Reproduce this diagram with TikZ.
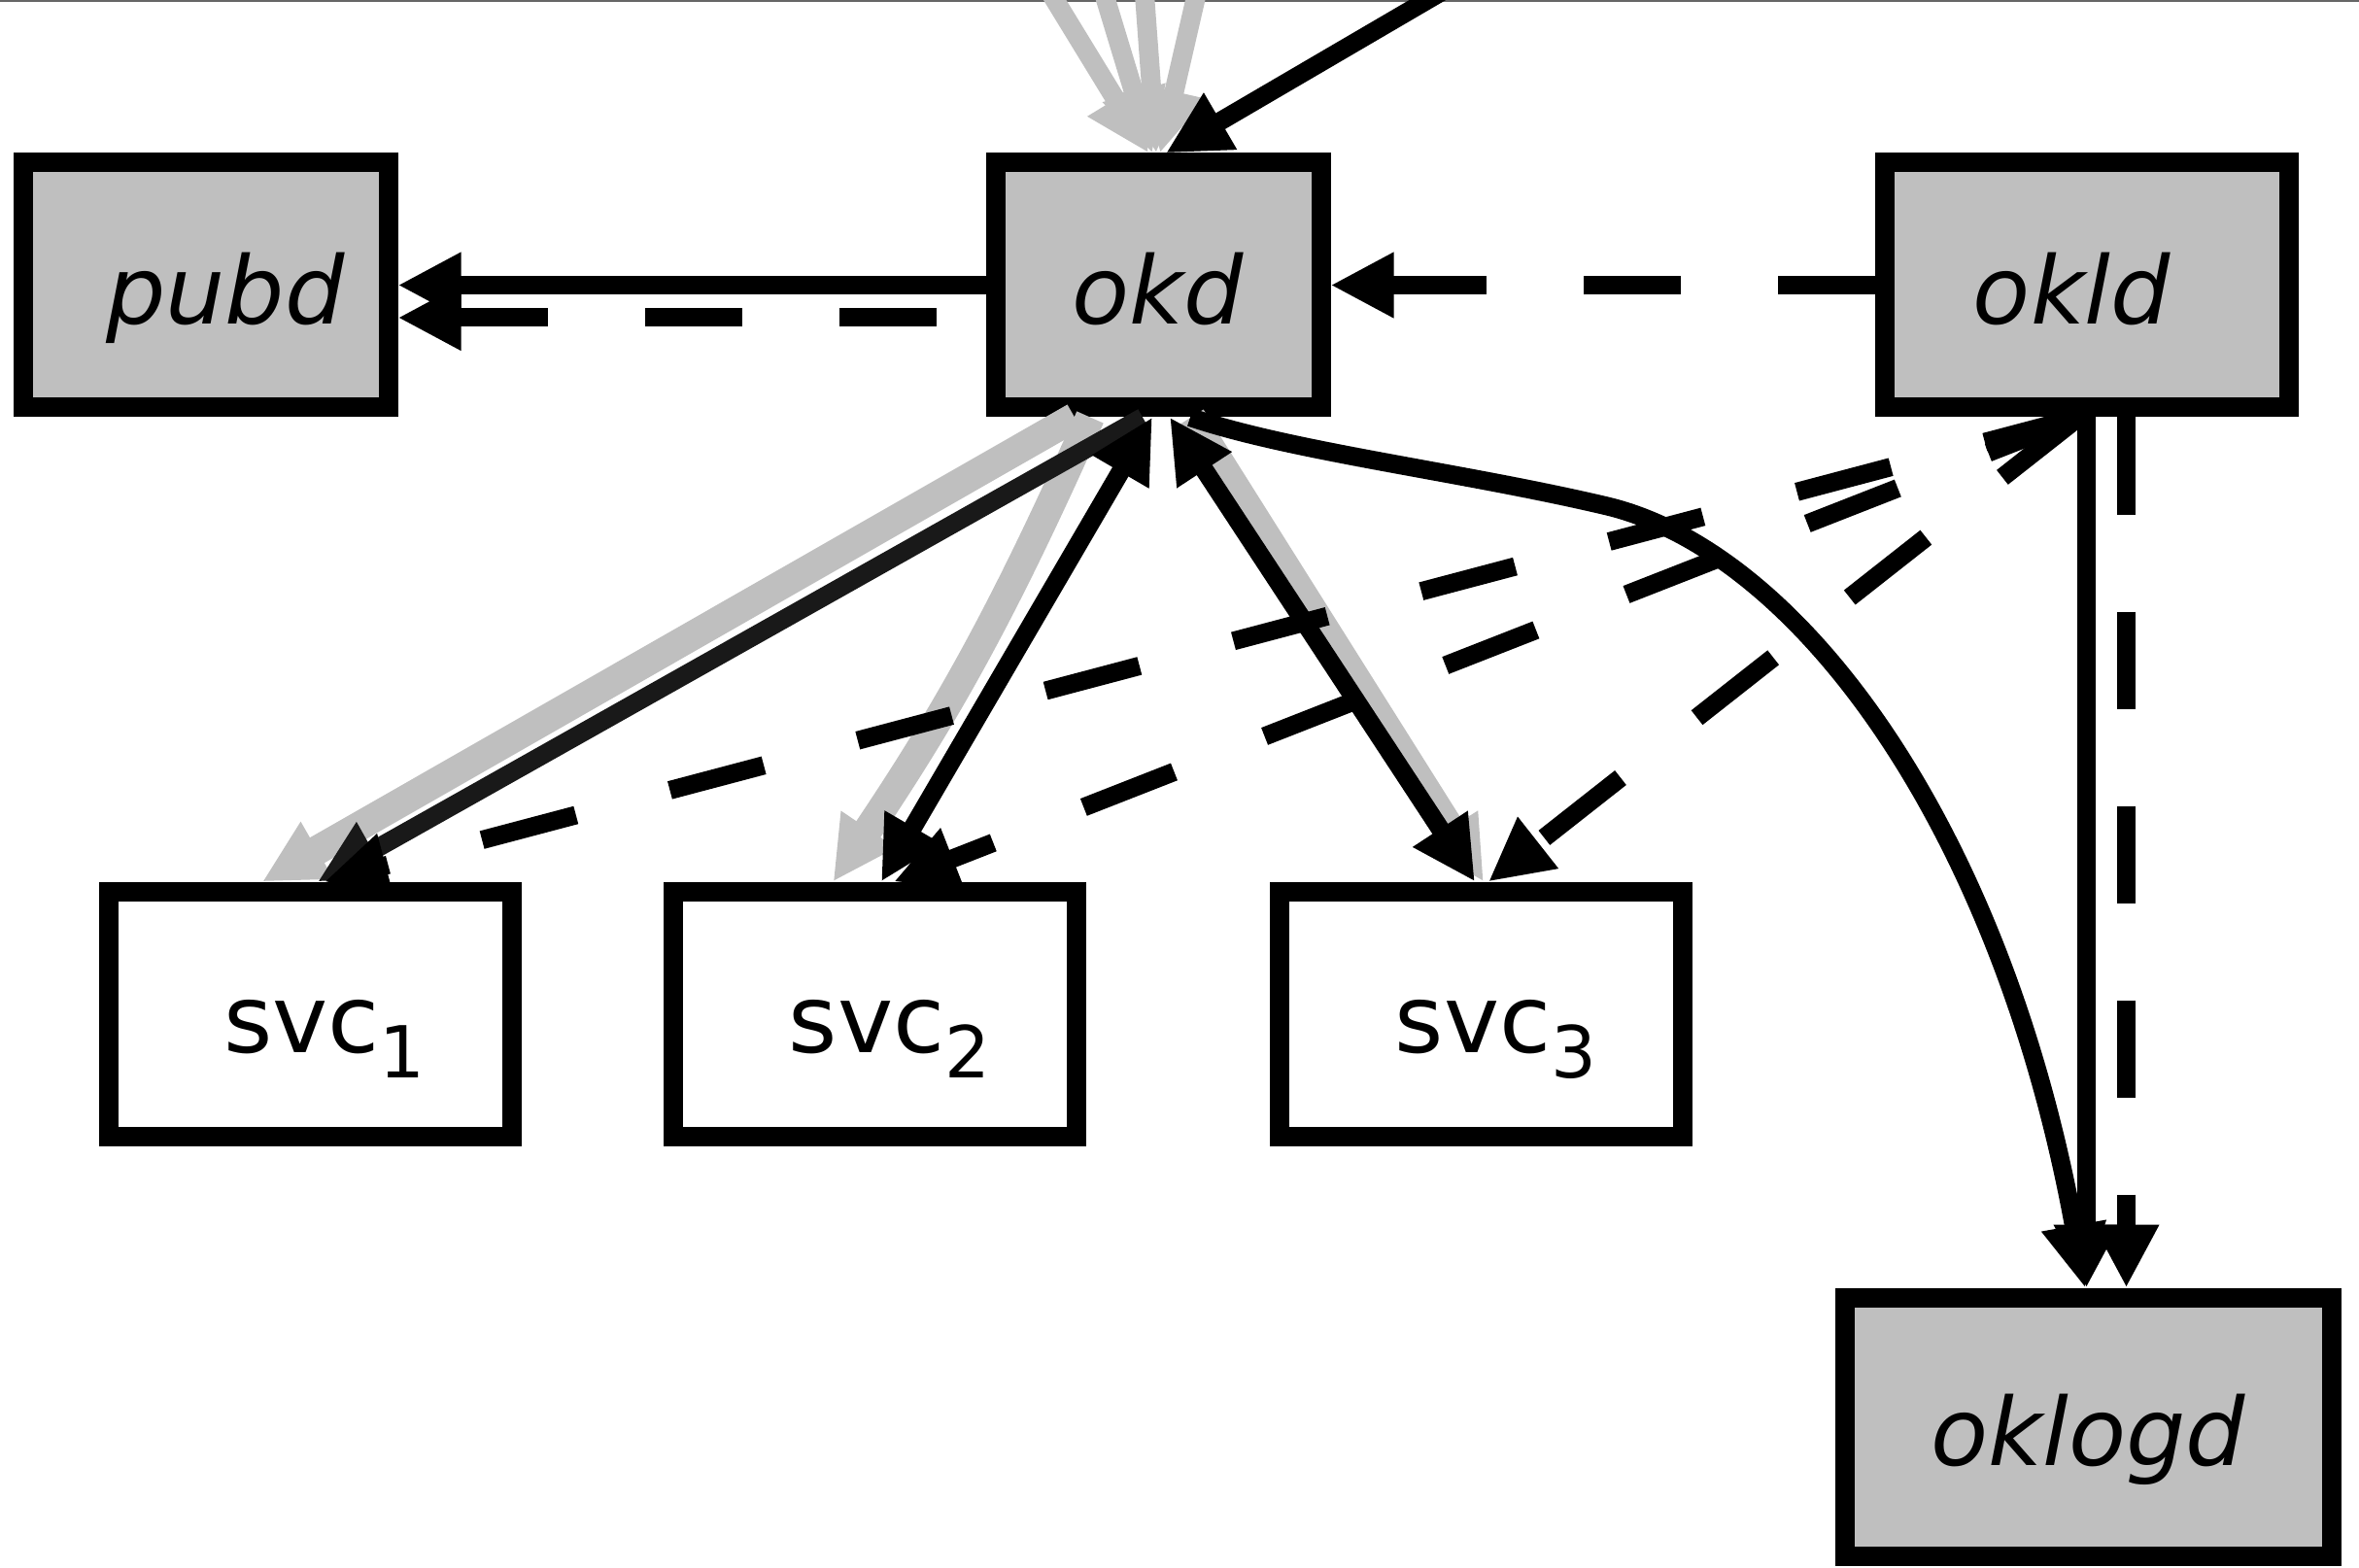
\documentclass[tikz,border=0pt]{standalone}
\usepackage{fontspec}
\setmainfont{DejaVu Sans}
\usetikzlibrary{arrows.meta}

\newcommand\svcsub[1]{\raisebox{-.26cm}{\fontsize{21}{24}\selectfont #1}}

\begin{document}
\begin{tikzpicture}[
        >={Triangle[length=.65cm,width=.63cm]},
        box/.style={draw,line width=.2cm,inner sep=0pt,minimum height=2.52cm,
            text height=.795cm,text depth=0pt,font=\fontsize{27.5}{33}\selectfont},
        daemon/.style={box,fill=black!25,font=\fontsize{27.5}{33}\selectfont\itshape},
        svcbox/.style={box,fill=white,minimum width=4.15cm,
            execute at begin node=\hspace*{.3cm}},
        edge/.style={line width=.19cm},
        dashedge/.style={edge,dash pattern=on 1cm off 1cm},
        grayedge/.style={line width=.3cm,black!25}]
        \useasboundingbox (0,0) rectangle (24.28,-16.14);
        \draw [black!60,line width=.02cm] (0,-.01) -- (24.28,-.01);

        \node [daemon,minimum width=3.75cm] (pubd) at (2.12,-2.935) {\hspace*{.4cm}pubd};
        \node [daemon,minimum width=3.35cm] (okd) at (11.92,-2.935) {okd};
        \node [daemon,minimum width=4.16cm] (okld) at (21.475,-2.935) {okld\hspace*{.3cm}};
        \node [daemon,minimum width=5.01cm,minimum height=2.66cm] (oklogd) at (21.49,-14.685) {oklogd};
        \node [svcbox] (svc1) at (3.19,-10.435) {svc\svcsub{1}};
        \node [svcbox] (svc2) at (9.005,-10.435) {svc\svcsub{2}};
        \node [svcbox] (svc3) at (15.245,-10.435) {svc\svcsub{3}};

        % edges coming in from above
        \foreach \x/\s [count=\i] in {10.49/-.10,11.20/-.06,11.74/-.02,12.44/.02}{
            \coordinate (in\i) at (\x,.6);
            \draw [grayedge,line width=.2cm,->] (in\i) -- ([xshift=\s cm]okd.north);
        }
        \coordinate (in5) at (15.72,.6);
        \draw [edge,->] (in5) -- ([xshift=.08cm]okd.north);

        \draw [edge,->] (okd.west) -- (pubd.east);
        \draw [dashedge,dash phase=1.49cm,->] ([yshift=-.335cm]okd.west) -- ([yshift=-.335cm]pubd.east);
        \draw [dashedge,->] (okld.west) -- (okd.east);

        % okd down to the services
        \foreach \n/\a/\b/\c in {1/-.86/-.49/0,2/-.70/-.43/5,3/.34/.025/0}{
            \draw [grayedge,->] ([xshift=\a cm]okd.south) to[bend left=\c] ([xshift=\b cm]svc\n.north);
        }
        \draw [edge,black!90,->] ([xshift=-.16cm]okd.south) -- ([xshift=.08cm]svc1.north);
        \draw [edge,<->] ([xshift=-.06cm]okd.south) -- ([xshift=.065cm]svc2.north);
        \draw [edge,<->] ([xshift=.12cm]okd.south) -- ([xshift=-.065cm]svc3.north);

        % okld down to the services
        \foreach \n/\s in {1/.15,2/.195,3/.075}{
            \draw [dashedge,->] ([xshift=-.08cm]okld.south) -- ([xshift=\s cm]svc\n.north);
        }

        \coordinate (mid) at (16.50,-5.20);
        \draw [edge,->] ([xshift=.33cm]okd.south) .. controls (13.30,-4.65) and (15.00,-4.85) .. (mid)
            .. controls (18.50,-5.65) and (20.60,-8.50) .. ([xshift=-.03cm]oklogd.north);
        \draw [edge,->] (okld.south) -- (okld.south |- oklogd.north);
        \draw [dashedge,->] ([xshift=.41cm]okld.south) -- ([xshift=.41cm]okld.south |- oklogd.north);

\end{tikzpicture}
\end{document}
